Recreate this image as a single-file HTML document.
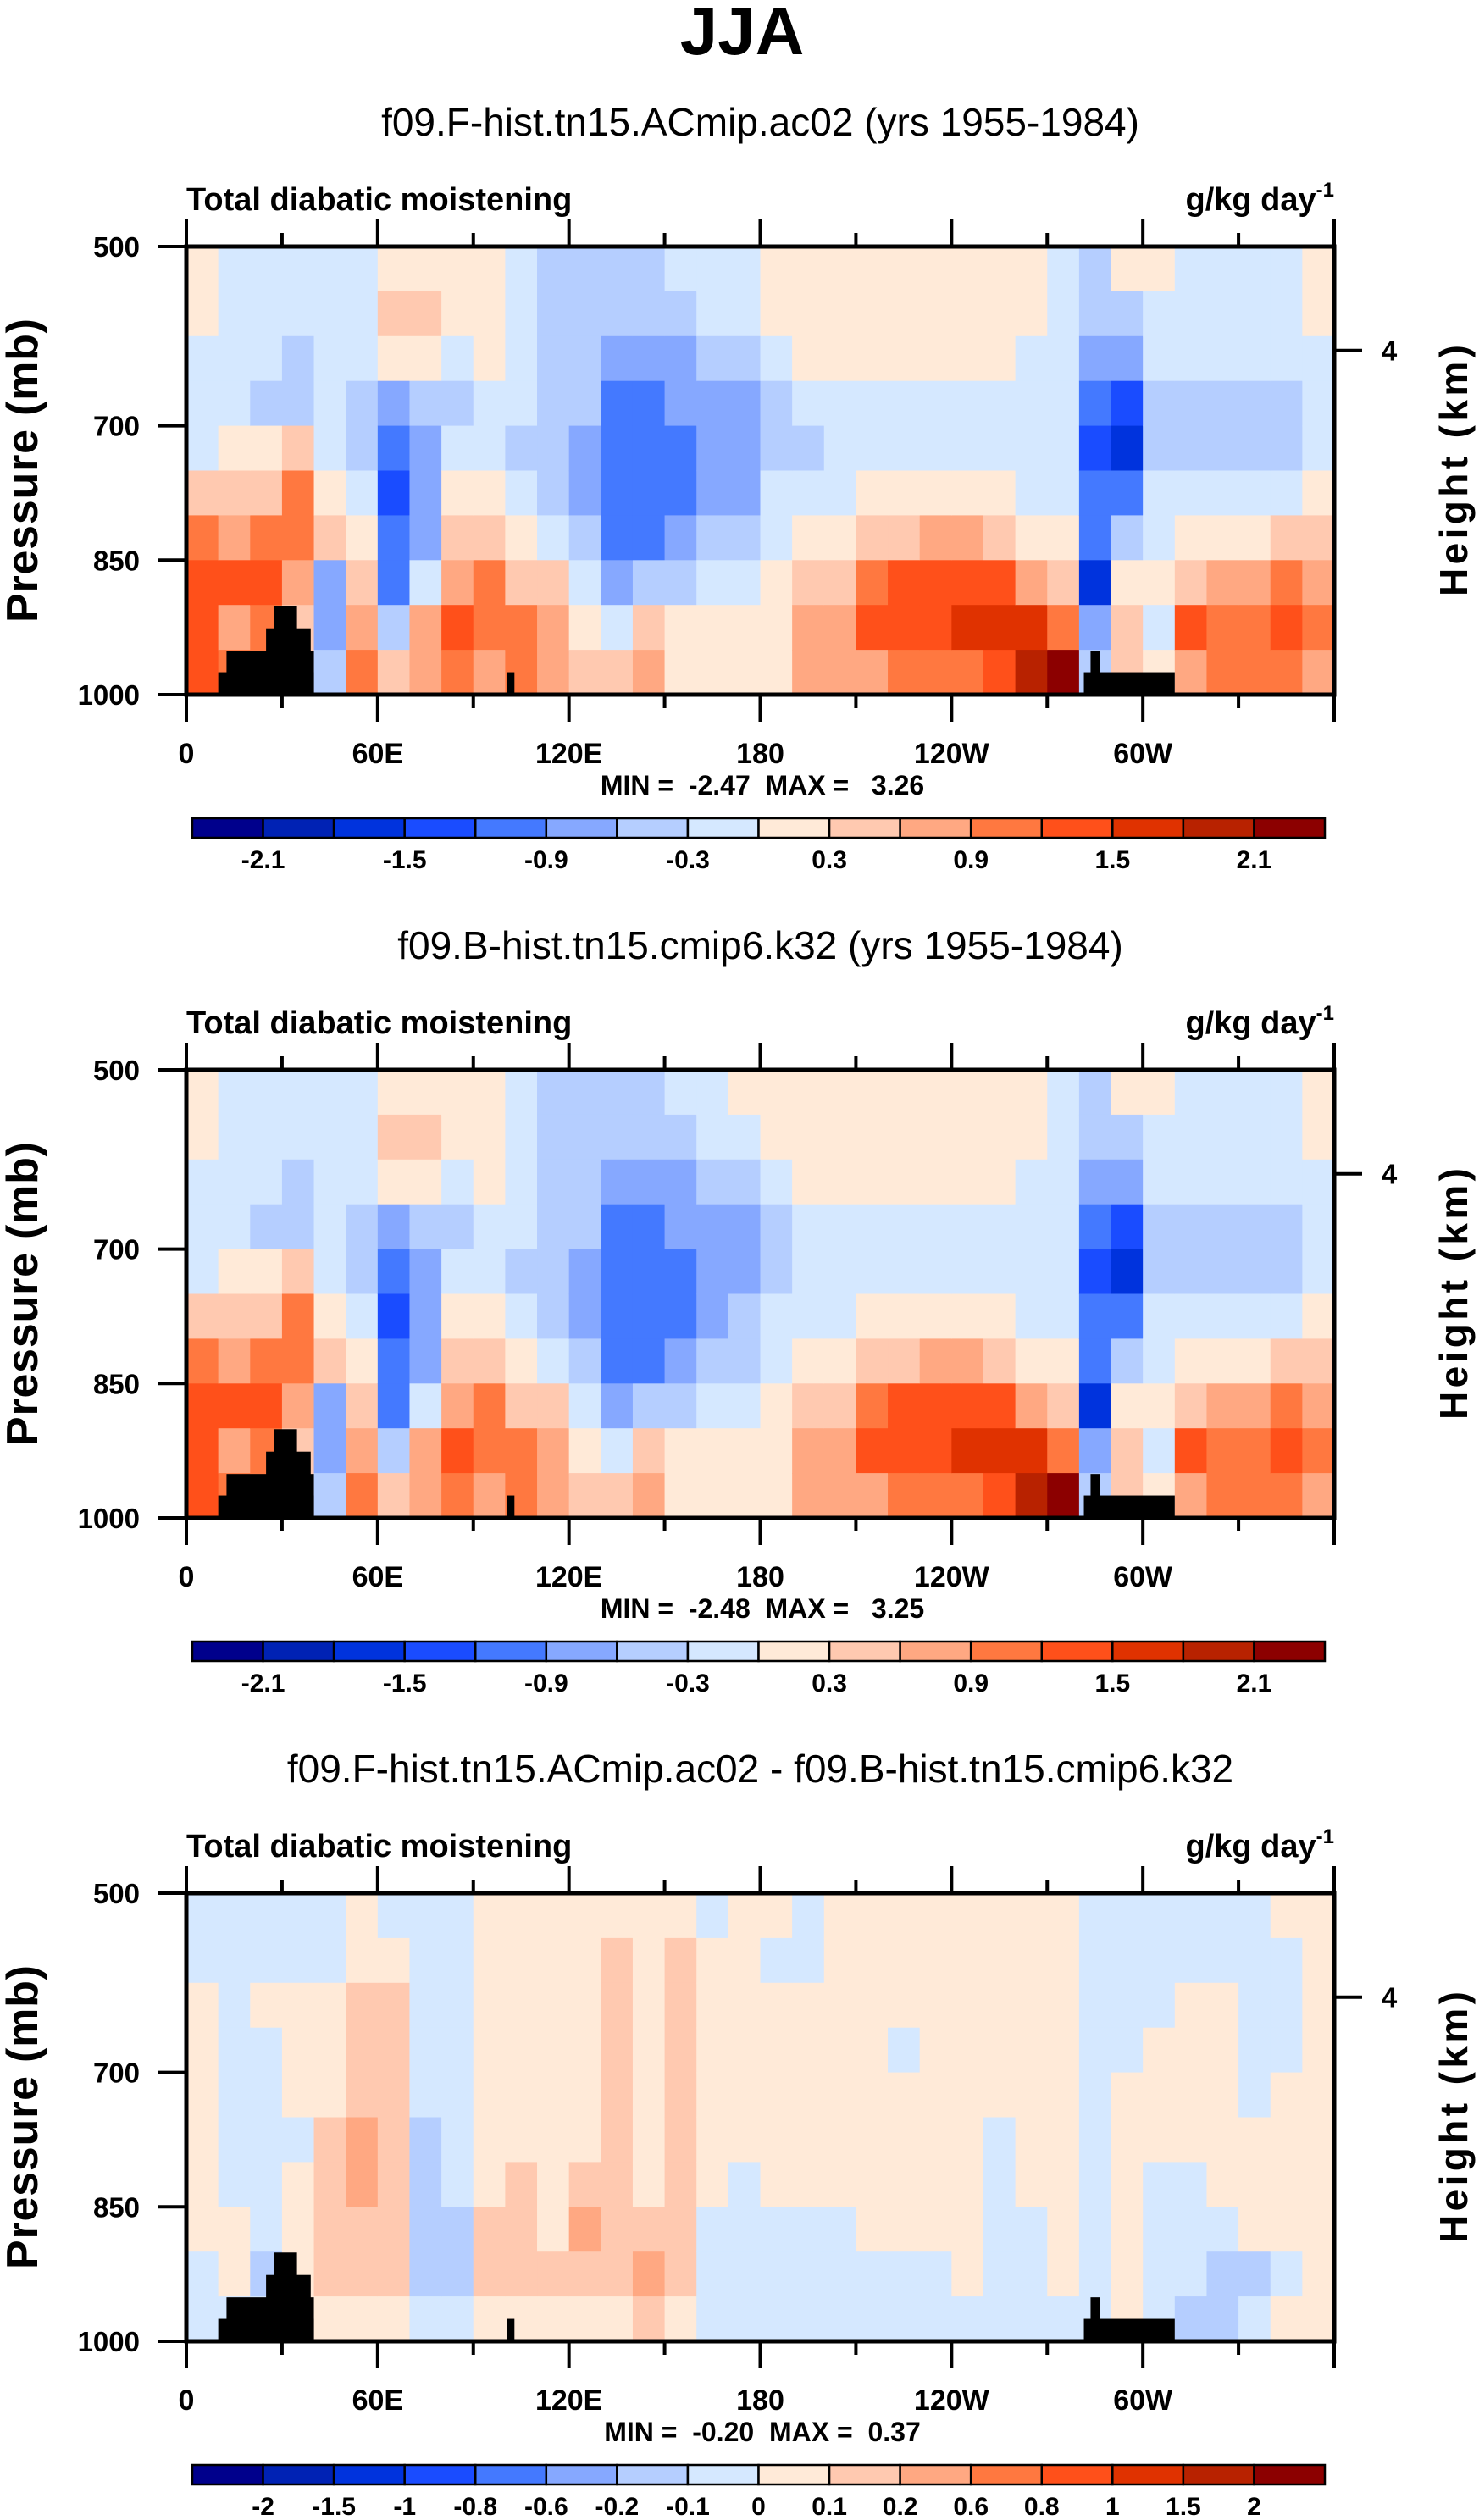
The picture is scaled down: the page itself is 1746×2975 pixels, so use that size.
<!DOCTYPE html>
<html><head><meta charset="utf-8">
<style>
html,body{margin:0;padding:0;background:#fff;}
svg{display:block;font-family:"Liberation Sans",Arial,sans-serif;}
</style></head>
<body>
<svg id="fig" width="1746" height="2975" viewBox="0 0 1746 2975" xmlns="http://www.w3.org/2000/svg">
<text x="876" y="64" text-anchor="middle" font-size="80" font-weight="bold">JJA</text>
<g id="panels"></g>
</svg>
<script>
// ---- data ----
const lonCenters = [5,15,25,35,45,55,65,75,85,95,105,115,125,135,145,155,165,175,185,195,205,215,225,235,245,255,265,275,285,295,305,315,325,335,345,355];
const presCenters = [525,575,625,675,725,775,825,875,925,975];
const xTickVals = [0,60,120,180,240,300];
const xTickLabels = ["0","60E","120E","180","120W","60W"];
const yTickVals = [500,700,850,1000];
const yTickLabels = ["500","700","850","1000"];
const heightTickP = [616];
const heightTickLabels = ["4"];
const landRects = [[10,40,975],[12.6,40,951],[25,39,926],[27.5,34.7,901],[100.5,102.9,975],[281.5,310,975],[283.6,286.5,951]];

const levelsAbs = [-2.1,-1.8,-1.5,-1.2,-0.9,-0.6,-0.3,0,0.3,0.6,0.9,1.2,1.5,1.8,2.1];
const labelsAbs = ["-2.1","","-1.5","","-0.9","","-0.3","","0.3","","0.9","","1.5","","2.1"];
const levelsDiff = [-2,-1.5,-1,-0.8,-0.6,-0.2,-0.1,0,0.1,0.2,0.6,0.8,1,1.5,2];
const labelsDiff = ["-2","-1.5","-1","-0.8","-0.6","-0.2","-0.1","0","0.1","0.2","0.6","0.8","1","1.5","2"];
const palette = ["#00008C","#0022B4","#0033DD","#1A4CFF","#4479FF","#86A8FF","#B5CEFF","#D5E8FF","#FFEAD8","#FFC9B0","#FFA882","#FF7840","#FF501A","#E03200","#B82200","#8C0000"];

// panel 1: one array per longitude column, rows top (500mb) to bottom (1000mb)
const p1 = [
[0.15,0.15,-0.15,-0.15,-0.15,0.45,1.05,1.35,1.35,1.35],
[-0.15,-0.15,-0.15,-0.15,0.15,0.45,0.75,1.35,0.75,1.05],
[-0.15,-0.15,-0.15,-0.45,0.15,0.45,1.05,1.35,1.05,1.05],
[-0.15,-0.15,-0.45,-0.45,0.45,1.05,1.05,0.75,0.45,0.45],
[-0.15,-0.15,-0.15,-0.15,-0.15,0.15,0.45,-0.75,-0.75,-0.45],
[-0.15,-0.15,-0.15,-0.45,-0.45,-0.15,0.15,0.45,0.75,1.05],
[0.15,0.45,0.15,-0.75,-1.05,-1.35,-1.05,-1.05,-0.45,0.45],
[0.15,0.45,0.15,-0.45,-0.75,-0.75,-0.75,-0.15,0.75,0.75],
[0.15,0.15,-0.15,-0.45,-0.15,0.15,0.45,0.75,1.35,1.05],
[0.15,0.15,0.15,-0.15,-0.15,0.15,0.45,1.05,1.05,0.75],
[-0.15,-0.15,-0.15,-0.15,-0.45,-0.15,0.15,0.45,1.05,1.05],
[-0.45,-0.45,-0.45,-0.45,-0.45,-0.45,-0.15,0.45,0.75,0.75],
[-0.45,-0.45,-0.45,-0.45,-0.75,-0.75,-0.45,-0.15,0.15,0.45],
[-0.45,-0.45,-0.75,-1.05,-1.05,-1.05,-1.05,-0.75,-0.15,0.45],
[-0.45,-0.45,-0.75,-1.05,-1.05,-1.05,-1.05,-0.45,0.45,0.75],
[-0.15,-0.45,-0.75,-0.75,-1.05,-1.05,-0.75,-0.45,0.15,0.15],
[-0.15,-0.15,-0.45,-0.75,-0.75,-0.75,-0.45,-0.15,0.15,0.15],
[-0.15,-0.15,-0.45,-0.75,-0.75,-0.75,-0.45,-0.15,0.15,0.15],
[0.15,0.15,-0.15,-0.45,-0.45,-0.15,-0.15,0.15,0.15,0.15],
[0.15,0.15,0.15,-0.15,-0.45,-0.15,0.15,0.45,0.75,0.75],
[0.15,0.15,0.15,-0.15,-0.15,-0.15,0.15,0.45,0.75,0.75],
[0.15,0.15,0.15,-0.15,-0.15,0.15,0.45,1.05,1.35,0.75],
[0.15,0.15,0.15,-0.15,-0.15,0.15,0.45,1.35,1.35,1.05],
[0.15,0.15,0.15,-0.15,-0.15,0.15,0.75,1.35,1.35,1.05],
[0.15,0.15,0.15,-0.15,-0.15,0.15,0.75,1.35,1.65,1.05],
[0.15,0.15,0.15,-0.15,-0.15,0.15,0.45,1.35,1.65,1.35],
[0.15,0.15,-0.15,-0.15,-0.15,-0.15,0.15,0.75,1.65,1.95],
[-0.15,-0.15,-0.15,-0.15,-0.15,-0.15,0.15,0.45,1.05,2.3],
[-0.45,-0.45,-0.75,-1.05,-1.35,-1.05,-1.05,-1.65,-0.75,-0.45],
[0.15,-0.45,-0.75,-1.35,-1.65,-1.05,-0.45,0.15,0.45,0.45],
[0.15,-0.15,-0.15,-0.45,-0.45,-0.15,-0.15,0.15,-0.15,0.15],
[-0.15,-0.15,-0.15,-0.45,-0.45,-0.15,0.15,0.45,1.35,0.75],
[-0.15,-0.15,-0.15,-0.45,-0.45,-0.15,0.15,0.75,1.05,1.05],
[-0.15,-0.15,-0.15,-0.45,-0.45,-0.15,0.15,0.75,1.05,1.05],
[-0.15,-0.15,-0.15,-0.45,-0.45,-0.15,0.45,1.05,1.35,1.05],
[0.15,0.15,-0.15,-0.15,-0.15,0.15,0.45,0.75,1.05,0.75]
];
const p2 = [
[0.15,0.15,-0.15,-0.15,-0.15,0.45,1.05,1.35,1.35,1.35],
[-0.15,-0.15,-0.15,-0.15,0.15,0.45,0.75,1.35,0.75,1.05],
[-0.15,-0.15,-0.15,-0.45,0.15,0.45,1.05,1.35,1.05,1.05],
[-0.15,-0.15,-0.45,-0.45,0.45,1.05,1.05,0.75,0.45,0.45],
[-0.15,-0.15,-0.15,-0.15,-0.15,0.15,0.45,-0.75,-0.75,-0.45],
[-0.15,-0.15,-0.15,-0.45,-0.45,-0.15,0.15,0.45,0.75,1.05],
[0.15,0.45,0.15,-0.75,-1.05,-1.35,-1.05,-1.05,-0.45,0.45],
[0.15,0.45,0.15,-0.45,-0.75,-0.75,-0.75,-0.15,0.75,0.75],
[0.15,0.15,-0.15,-0.45,-0.15,0.15,0.45,0.75,1.35,1.05],
[0.15,0.15,0.15,-0.15,-0.15,0.15,0.45,1.05,1.05,0.75],
[-0.15,-0.15,-0.15,-0.15,-0.45,-0.15,0.15,0.45,1.05,1.05],
[-0.45,-0.45,-0.45,-0.45,-0.45,-0.45,-0.15,0.45,0.75,0.75],
[-0.45,-0.45,-0.45,-0.45,-0.75,-0.75,-0.45,-0.15,0.15,0.45],
[-0.45,-0.45,-0.75,-1.05,-1.05,-1.05,-1.05,-0.75,-0.15,0.45],
[-0.45,-0.45,-0.75,-1.05,-1.05,-1.05,-1.05,-0.45,0.45,0.75],
[-0.15,-0.45,-0.75,-0.75,-1.05,-1.05,-0.75,-0.45,0.15,0.15],
[-0.15,-0.15,-0.45,-0.75,-0.75,-0.75,-0.45,-0.15,0.15,0.15],
[0.15,-0.15,-0.45,-0.75,-0.75,-0.45,-0.45,-0.15,0.15,0.15],
[0.15,0.15,-0.15,-0.45,-0.45,-0.15,-0.15,0.15,0.15,0.15],
[0.15,0.15,0.15,-0.15,-0.15,-0.15,0.15,0.45,0.75,0.75],
[0.15,0.15,0.15,-0.15,-0.15,-0.15,0.15,0.45,0.75,0.75],
[0.15,0.15,0.15,-0.15,-0.15,0.15,0.45,1.05,1.35,0.75],
[0.15,0.15,0.15,-0.15,-0.15,0.15,0.45,1.35,1.35,1.05],
[0.15,0.15,0.15,-0.15,-0.15,0.15,0.75,1.35,1.35,1.05],
[0.15,0.15,0.15,-0.15,-0.15,0.15,0.75,1.35,1.65,1.05],
[0.15,0.15,0.15,-0.15,-0.15,0.15,0.45,1.35,1.65,1.35],
[0.15,0.15,-0.15,-0.15,-0.15,-0.15,0.15,0.75,1.65,1.95],
[-0.15,-0.15,-0.15,-0.15,-0.15,-0.15,0.15,0.45,1.05,2.3],
[-0.45,-0.45,-0.75,-1.05,-1.35,-1.05,-1.05,-1.65,-0.75,-0.45],
[0.15,-0.45,-0.75,-1.35,-1.65,-1.05,-0.45,0.15,0.45,0.45],
[0.15,-0.15,-0.15,-0.45,-0.45,-0.15,-0.15,0.15,-0.15,0.15],
[-0.15,-0.15,-0.15,-0.45,-0.45,-0.15,0.15,0.45,1.35,0.75],
[-0.15,-0.15,-0.15,-0.45,-0.45,-0.15,0.15,0.75,1.05,1.05],
[-0.15,-0.15,-0.15,-0.45,-0.45,-0.15,0.15,0.75,1.05,1.05],
[-0.15,-0.15,-0.15,-0.45,-0.45,-0.15,0.45,1.05,1.35,1.05],
[0.15,0.15,-0.15,-0.15,-0.15,0.15,0.45,0.75,1.05,0.75]
];
const p3 = [
[-0.05,-0.05,0.05,0.05,0.05,0.05,0.05,0.05,-0.05,-0.05],
[-0.05,-0.05,-0.05,-0.05,-0.05,-0.05,-0.05,0.05,0.05,-0.05],
[-0.05,-0.05,0.05,-0.05,-0.05,-0.05,-0.05,-0.05,-0.15,-0.05],
[-0.05,-0.05,0.05,0.05,0.05,-0.05,0.05,0.05,0.05,0.05],
[-0.05,-0.05,0.05,0.05,0.05,0.15,0.15,0.15,0.15,0.05],
[0.05,0.05,0.15,0.15,0.15,0.4,0.4,0.15,0.15,0.05],
[-0.05,0.05,0.15,0.15,0.15,0.15,0.15,0.15,0.15,0.05],
[-0.05,-0.05,-0.05,-0.05,-0.05,-0.15,-0.15,-0.15,-0.15,-0.05],
[-0.05,-0.05,-0.05,-0.05,-0.05,-0.05,-0.05,-0.15,-0.15,-0.05],
[0.05,0.05,0.05,0.05,0.05,0.05,0.05,0.15,0.15,0.05],
[0.05,0.05,0.05,0.05,0.05,0.05,0.15,0.15,0.15,0.05],
[0.05,0.05,0.05,0.05,0.05,0.05,0.05,0.05,0.15,0.05],
[0.05,0.05,0.05,0.05,0.05,0.05,0.15,0.4,0.15,0.05],
[0.05,0.15,0.15,0.15,0.15,0.15,0.15,0.15,0.15,0.05],
[0.05,0.05,0.05,0.05,0.05,0.05,0.05,0.15,0.4,0.15],
[0.05,0.15,0.15,0.15,0.15,0.15,0.15,0.15,0.15,0.05],
[-0.05,0.05,0.05,0.05,0.05,0.05,0.05,-0.05,-0.05,-0.05],
[0.05,0.05,0.05,0.05,0.05,0.05,-0.05,-0.05,-0.05,-0.05],
[0.05,-0.05,0.05,0.05,0.05,0.05,0.05,-0.05,-0.05,-0.05],
[-0.05,-0.05,0.05,0.05,0.05,0.05,0.05,-0.05,-0.05,-0.05],
[0.05,0.05,0.05,0.05,0.05,0.05,0.05,-0.05,-0.05,-0.05],
[0.05,0.05,0.05,0.05,0.05,0.05,0.05,0.05,-0.05,-0.05],
[0.05,0.05,0.05,-0.05,0.05,0.05,0.05,0.05,-0.05,-0.05],
[0.05,0.05,0.05,0.05,0.05,0.05,0.05,0.05,-0.05,-0.05],
[0.05,0.05,0.05,0.05,0.05,0.05,0.05,0.05,0.05,-0.05],
[0.05,0.05,0.05,0.05,0.05,-0.05,-0.05,-0.05,-0.05,-0.05],
[0.05,0.05,0.05,0.05,0.05,0.05,0.05,-0.05,-0.05,-0.05],
[0.05,0.05,0.05,0.05,0.05,0.05,0.05,0.05,0.05,-0.05],
[-0.05,-0.05,-0.05,-0.05,-0.05,-0.05,-0.05,-0.05,-0.05,-0.05],
[-0.05,-0.05,-0.05,-0.05,0.05,0.05,0.05,0.05,0.05,0.05],
[-0.05,-0.05,-0.05,0.05,0.05,0.05,-0.05,-0.05,-0.05,-0.05],
[-0.05,-0.05,0.05,0.05,0.05,0.05,-0.05,-0.05,-0.05,-0.15],
[-0.05,-0.05,0.05,0.05,0.05,0.05,0.05,-0.05,-0.15,-0.15],
[-0.05,-0.05,-0.05,-0.05,-0.05,0.05,0.05,0.05,-0.15,-0.05],
[0.05,-0.05,-0.05,-0.05,0.05,0.05,0.05,0.05,-0.05,0.05],
[0.05,0.05,0.05,0.05,0.05,0.05,0.05,0.05,0.05,0.05]
];
const subtitles = ["f09.F-hist.tn15.ACmip.ac02 (yrs 1955-1984)","f09.B-hist.tn15.cmip6.k32 (yrs 1955-1984)","f09.F-hist.tn15.ACmip.ac02 - f09.B-hist.tn15.cmip6.k32"];
const minMax = ["MIN =  -2.47  MAX =   3.26","MIN =  -2.48  MAX =   3.25","MIN =  -0.20  MAX =  0.37"];

// ---- drawing ----
const NS = "http://www.w3.org/2000/svg";
const L = 220, R = 1575, PH = 529;
function mk(tag, attrs, parent){ const e=document.createElementNS(NS,tag); for(const k in attrs) e.setAttribute(k,attrs[k]); parent.appendChild(e); return e; }
function xScale(lon){ return L + lon/360*(R-L); }
function colorFor(v, lev){ let i=0; while(i<lev.length && v>=lev[i]) i++; return palette[i]; }

function drawPanel(idx, grid, lev, labs, top){
  const g = mk("g",{},document.getElementById("panels"));
  
  
  const yScale = p => top + (p-500)/500*PH;
  const st = mk("text",{x:(L+R)/2,y:top-131,"text-anchor":"middle","font-size":46},g);
  st.textContent = subtitles[idx];
  
  
  const lt = mk("text",{x:L,y:top-43,"font-size":38,"font-weight":"bold"},g);
  lt.textContent = "Total diabatic moistening";
  
  
  const ut = mk("text",{x:R,y:top-43,"text-anchor":"end","font-size":38,"font-weight":"bold"},g);
  ut.innerHTML = 'g/kg day<tspan dy="-16" font-size="24">-1</tspan>';
  
  
  const cells = mk("g",{},g);
  
  
  const dLon = lonCenters[1]-lonCenters[0], dP = presCenters[1]-presCenters[0];
  for(let c=0;c<lonCenters.length;c++){
    for(let r=0;r<presCenters.length;r++){
      const x0=xScale(lonCenters[c]-dLon/2), x1=xScale(lonCenters[c]+dLon/2);
      const y0=yScale(presCenters[r]-dP/2), y1=yScale(presCenters[r]+dP/2);
      const rc = mk("rect",{x:x0,y:y0,width:x1-x0+0.6,height:y1-y0+0.6,fill:colorFor(grid[c][r],lev)},cells);
      
      
    }
  }
  for(const lr of landRects){
    const m = mk("rect",{x:xScale(lr[0]),y:yScale(lr[2]),width:xScale(lr[1])-xScale(lr[0]),height:yScale(1000)-yScale(lr[2]),fill:"#000"},g);
    
    
  }
  const fr = mk("rect",{x:L,y:top,width:R-L,height:PH,fill:"none",stroke:"#000","stroke-width":5},g);
  
  
  for(let lon=0; lon<=360; lon+=30){
    const major = lon%60===0, len = major?32:16, x=xScale(lon);
    const tb = mk("line",{x1:x,x2:x,y1:top+PH,y2:top+PH+len,stroke:"#000","stroke-width":4},g);
    
    
    const tt = mk("line",{x1:x,x2:x,y1:top,y2:top-len,stroke:"#000","stroke-width":4},g);
    
    
  }
  xTickVals.forEach((v,i)=>{
    const t = mk("text",{x:xScale(v),y:top+PH+81,"text-anchor":"middle","font-size":34,"font-weight":"bold"},g);
    t.textContent = xTickLabels[i];
    
    
  });
  yTickVals.forEach((v,i)=>{
    const y=yScale(v);
    const tl = mk("line",{x1:L,x2:L-33,y1:y,y2:y,stroke:"#000","stroke-width":4},g);
    
    
    const t = mk("text",{x:L-55,y:y+12,"text-anchor":"end","font-size":33,"font-weight":"bold"},g);
    t.textContent = yTickLabels[i];
    
    
  });
  heightTickP.forEach((p,i)=>{
    const y=yScale(p);
    const tl = mk("line",{x1:R,x2:R+33,y1:y,y2:y,stroke:"#000","stroke-width":4},g);
    
    
    const t = mk("text",{x:R+65,y:y+12,"text-anchor":"middle","font-size":33,"font-weight":"bold"},g);
    t.textContent = heightTickLabels[i];
    
    
  });
  const yc = top+PH/2;
  const ya = mk("text",{x:0,y:0,transform:`translate(44,${yc}) rotate(-90)`,"text-anchor":"middle","font-size":52,"font-weight":"bold",textLength:359},g);
  ya.textContent = "Pressure (mb)";
  
  
  const ha = mk("text",{x:0,y:0,transform:`translate(1732,${yc}) rotate(-90)`,"text-anchor":"middle","font-size":46,"font-weight":"bold",textLength:297},g);
  ha.textContent = "Height (km)";
  
  
  const mm = mk("text",{x:900,y:top+PH+118,"text-anchor":"middle","font-size":32,"font-weight":"bold"},g);
  mm.setAttribute("style","white-space:pre");
  mm.textContent = minMax[idx];
  
  
  const cb = mk("g",{},g);
  
  
  const cbL=227, cbR=1564, cbT=top+675, cbH=23, w=(cbR-cbL)/palette.length;
  palette.forEach((col,i)=>{
    const s = mk("rect",{x:cbL+i*w,y:cbT,width:w,height:cbH,fill:col,stroke:"#000","stroke-width":2.5},cb);
    
    
  });
  labs.forEach((lab,i)=>{
    if(!lab) return;
    const t = mk("text",{x:cbL+(i+1)*w,y:cbT+59,"text-anchor":"middle","font-size":30,"font-weight":"bold"},cb);
    t.textContent = lab;
    
    
  });
}
drawPanel(0,p1,levelsAbs,labelsAbs,291);
drawPanel(1,p2,levelsAbs,labelsAbs,1263);
drawPanel(2,p3,levelsDiff,labelsDiff,2235);
</script>
</body></html>
